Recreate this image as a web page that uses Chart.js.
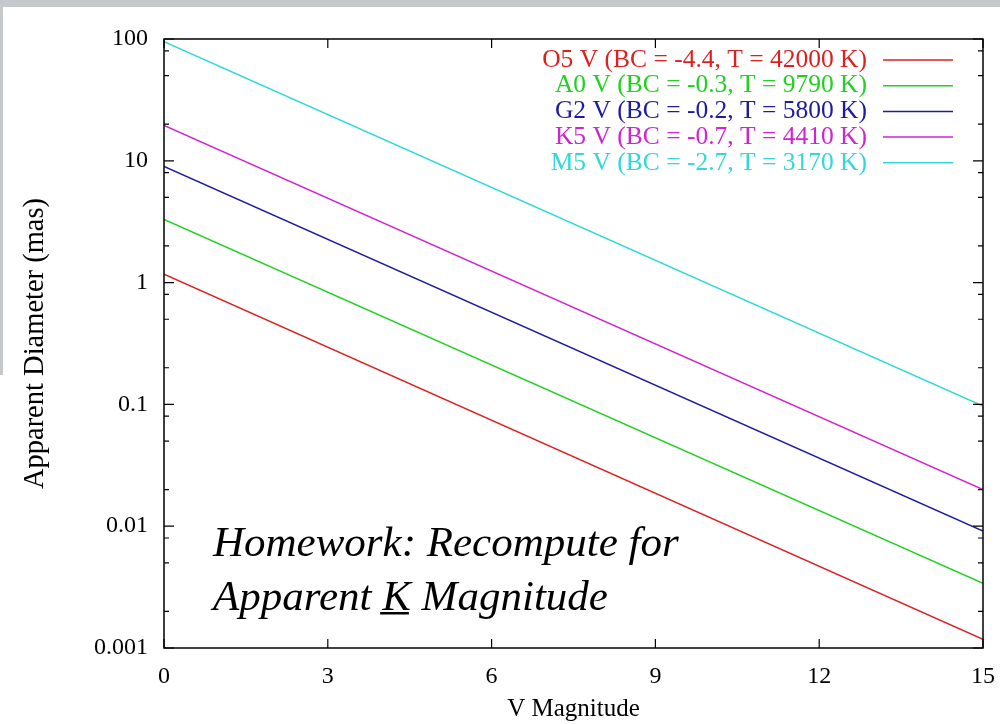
<!DOCTYPE html>
<html>
<head>
<meta charset="utf-8">
<script src="https://cdn.jsdelivr.net/npm/chart.js@4/dist/chart.umd.min.js"></script>
<style>
  html, body { margin: 0; padding: 0; background: #fff; }
  #wrap { width: 1000px; height: 724px; }
</style>
</head>
<body>
<div id="wrap"><canvas id="g_diam" width="1000" height="724"></canvas></div>
<script>
// V magnitude end points and apparent diameters (mas)
const magV = [0, 15];
const o5 = [1.17, 0.00118];
const a0 = [3.3, 0.0034];
const g2 = [9.0, 0.0091];
const k5 = [19.5, 0.0200];
const m5 = [95, 0.097];

const seriesNames = [
    'O5 V (BC = -4.4, T = 42000 K)',
    'A0 V (BC = -0.3, T = 9790 K)',
    'G2 V (BC = -0.2, T = 5800 K)',
    'K5 V (BC = -0.7, T = 4410 K)',
    'M5 V (BC = -2.7, T = 3170 K)'
];
const seriesColors = ['#dd2020', '#22d022', '#1c1c9e', '#d024d0', '#30d8d8'];

const xTicks = [0, 3, 6, 9, 12, 15];
const yTicks = [0.001, 0.01, 0.1, 1, 10, 100];
const yMinor = [2, 5, 8];

const serif = '"Liberation Serif", "DejaVu Serif", serif';

const allSeries = [o5, a0, g2, k5, m5];
const datasets = allSeries.map((vals, i) => ({
    label: seriesNames[i],
    data: magV.map((v, j) => ({ x: v, y: vals[j] })),
    borderColor: seriesColors[i],
    backgroundColor: seriesColors[i],
    borderWidth: 1.5,
    pointRadius: 0,
    fill: false
}));

// slide background bits + frame with inward gnuplot ticks
const frame = {
    id: 'frame',
    beforeDraw(chart) {
        const c = chart.ctx;
        c.save();
        c.fillStyle = '#fff';
        c.fillRect(0, 0, chart.width, chart.height);
        c.fillStyle = '#c6c9cc';
        c.fillRect(0, 0, chart.width, 7);
        c.fillRect(0, 7, 3, 368);
        c.restore();
    },
    afterDatasetsDraw(chart) {
        const c = chart.ctx;
        const a = chart.chartArea;
        const xs = chart.scales.x, ys = chart.scales.y;
        c.save();
        c.strokeStyle = '#000';
        c.lineWidth = 1.5;
        c.strokeRect(a.left, a.top, a.right - a.left, a.bottom - a.top);
        c.lineWidth = 1.2;
        c.beginPath();
        xTicks.forEach(v => {
            const px = xs.getPixelForValue(v);
            c.moveTo(px, a.bottom); c.lineTo(px, a.bottom - 9);
            c.moveTo(px, a.top); c.lineTo(px, a.top + 9);
        });
        yTicks.forEach((v, i) => {
            const py = ys.getPixelForValue(v);
            c.moveTo(a.left, py); c.lineTo(a.left + 10, py);
            c.moveTo(a.right, py); c.lineTo(a.right - 10, py);
            if (i < yTicks.length - 1) {
                yMinor.forEach(m => {
                    const pm = ys.getPixelForValue(v * m);
                    c.moveTo(a.left, pm); c.lineTo(a.left + 5, pm);
                    c.moveTo(a.right, pm); c.lineTo(a.right - 5, pm);
                });
            }
        });
        c.stroke();
        c.restore();
    }
};

// legend in gnuplot style: text right-aligned, sample line on the right
const keyBox = {
    id: 'keyBox',
    afterDatasetsDraw(chart) {
        const c = chart.ctx;
        c.save();
        c.font = '25.5px ' + serif;
        c.textAlign = 'right';
        c.textBaseline = 'middle';
        chart.data.datasets.forEach((ds, i) => {
            const y = 60 + i * 25.7;
            c.fillStyle = ds.borderColor;
            c.fillText(ds.label, 867, y);
            c.strokeStyle = ds.borderColor;
            c.lineWidth = 1.5;
            c.beginPath();
            c.moveTo(883, y); c.lineTo(953, y);
            c.stroke();
        });
        c.restore();
    }
};

const homework = {
    id: 'homework',
    afterDatasetsDraw(chart) {
        const c = chart.ctx;
        c.save();
        c.font = 'italic 43px ' + serif;
        c.fillStyle = '#000';
        c.textBaseline = 'alphabetic';
        c.fillText('Homework: Recompute for', 213, 556);
        let x = 213;
        c.fillText('Apparent ', x, 610);
        x += c.measureText('Apparent ').width;
        c.fillText('K', x, 610);
        const kw = c.measureText('K').width;
        c.fillRect(x - 2, 612, kw, 2.5);
        x += kw;
        c.fillText(' Magnitude', x, 610);
        c.restore();
    }
};

const ctx = document.getElementById('g_diam').getContext('2d');
const g_diam = new Chart(ctx, {
    type: 'line',
    data: { datasets: datasets },
    options: {
        responsive: false,
        animation: false,
        layout: { padding: { top: 39, right: 17, left: 0, bottom: 0 } },
        plugins: {
            legend: { display: false },
            tooltip: { enabled: false }
        },
        scales: {
            x: {
                type: 'linear',
                min: 0,
                max: 15,
                afterBuildTicks: s => { s.ticks = xTicks.map(v => ({ value: v })); },
                afterFit: s => { s.height = 76; s.paddingLeft = 0; s.paddingRight = 0; },
                grid: { drawOnChartArea: false, drawTicks: false },
                border: { display: false },
                ticks: { color: '#000', font: { family: serif, size: 24 }, padding: 14, maxRotation: 0 },
                title: { display: true, text: 'V Magnitude', color: '#000', font: { family: serif, size: 25 }, padding: { top: 4, bottom: 0 } }
            },
            y: {
                type: 'logarithmic',
                min: 0.001,
                max: 100,
                afterBuildTicks: s => { s.ticks = yTicks.map(v => ({ value: v })); },
                afterFit: s => { s.width = 164; s.paddingTop = 0; s.paddingBottom = 0; },
                grid: { drawOnChartArea: false, drawTicks: false },
                border: { display: false },
                ticks: { color: '#000', font: { family: serif, size: 24 }, padding: 16, callback: v => String(v) },
                title: { display: true, text: 'Apparent Diameter (mas)', color: '#000', font: { family: serif, size: 28.5 }, padding: { top: 18, bottom: 0 } }
            }
        }
    },
    plugins: [frame, keyBox, homework]
});
</script>
</body>
</html>
